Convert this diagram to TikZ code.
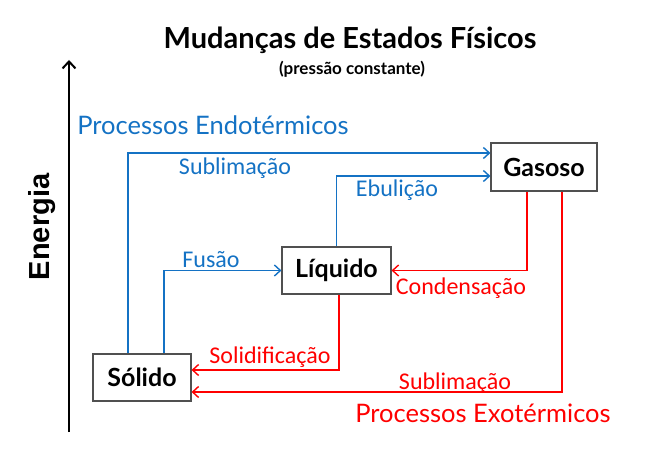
\documentclass[tikz,border=0pt]{standalone}
\usepackage{fontspec}
\setmainfont{Carlito}
\newfontfamily\comic{Lato}
\newfontfamily\arialb{Liberation Sans}
\usetikzlibrary{arrows.meta}
\definecolor{azul}{RGB}{20,114,196}
\definecolor{vermelho}{RGB}{255,0,0}
\definecolor{borda}{RGB}{80,80,80}

\tikzset{
  estado/.style={draw=borda, line width=1.1pt, fill=white, font=\comic\bfseries\fontsize{25}{27}\selectfont},
  endo/.style={draw=azul, line width=1.4pt, -{Straight Barb[length=6pt,width=11pt]}},
  exo/.style={draw=vermelho, line width=1.4pt, -{Straight Barb[length=6pt,width=11pt]}},
  rotazul/.style={text=azul, font=\fontsize{24}{26}\selectfont},
  rotverm/.style={text=vermelho, font=\fontsize{24}{26}\selectfont},
}

\begin{document}
\begin{tikzpicture}[x=1pt, y=-1pt]
\useasboundingbox (0,0) rectangle (645,465);

% titulo
\node (titulo) at (350,40) {\comic\bfseries\fontsize{29}{31}\selectfont Mudanças de Estados Físicos};
\node (subtitulo) at (352,69) {\comic\bfseries\fontsize{17}{19}\selectfont (pressão constante)};

% eixo da energia
\coordinate (eixo0) at (69,432);
\coordinate (eixo1) at (69,60);
\draw[line width=2pt, -{Straight Barb[length=7pt,width=13pt]}] (eixo0) -- (eixo1);
\node[rotate=90] (energia) at (42,227) {\arialb\bfseries\fontsize{29}{31}\selectfont Energia};

\node[text=azul] (endotermicos) at (213,125) {\comic\fontsize{25.5}{27}\selectfont Processos Endotérmicos};
\node[text=vermelho] (exotermicos) at (483,413) {\comic\fontsize{25.5}{27}\selectfont Processos Exotérmicos};

% estados
\node[estado, minimum width=106pt, minimum height=48pt] (gasoso) at (544,167) {Gasoso};
\node[estado, minimum width=109pt, minimum height=47pt] (liquido) at (336.5,270.5) {Líquido};
\node[estado, minimum width=98pt, minimum height=47pt] (solido) at (142,377.5) {Sólido};

% processos endotermicos
\draw[endo] ([xshift=-14pt]solido.north) |- ([yshift=14pt]gasoso.west);
\draw[endo] (liquido.north) |- ([yshift=-9pt]gasoso.west);
\draw[endo] ([xshift=22pt]solido.north) |- (liquido.west);

% processos exotermicos
\draw[exo] ([xshift=-17pt]gasoso.south) |- (liquido.east);
\draw[exo] ([xshift=2.5pt]liquido.south) |- ([yshift=7.5pt]solido.east);
\draw[exo] ([xshift=18pt]gasoso.south) |- ([yshift=-14.5pt]solido.east);

% rotulos
\node[rotazul] (sublim1) at (235,168) {Sublimação};
\node[rotazul] (ebulicao) at (397,190) {Ebulição};
\node[rotazul] (fusao) at (211,260) {Fusão};
\node[rotverm] (condens) at (461,288) {Condensação};
\node[rotverm] (solidif) at (270,357) {Solidificação};
\node[rotverm] (sublim2) at (455,383) {Sublimação};
\end{tikzpicture}
\end{document}
